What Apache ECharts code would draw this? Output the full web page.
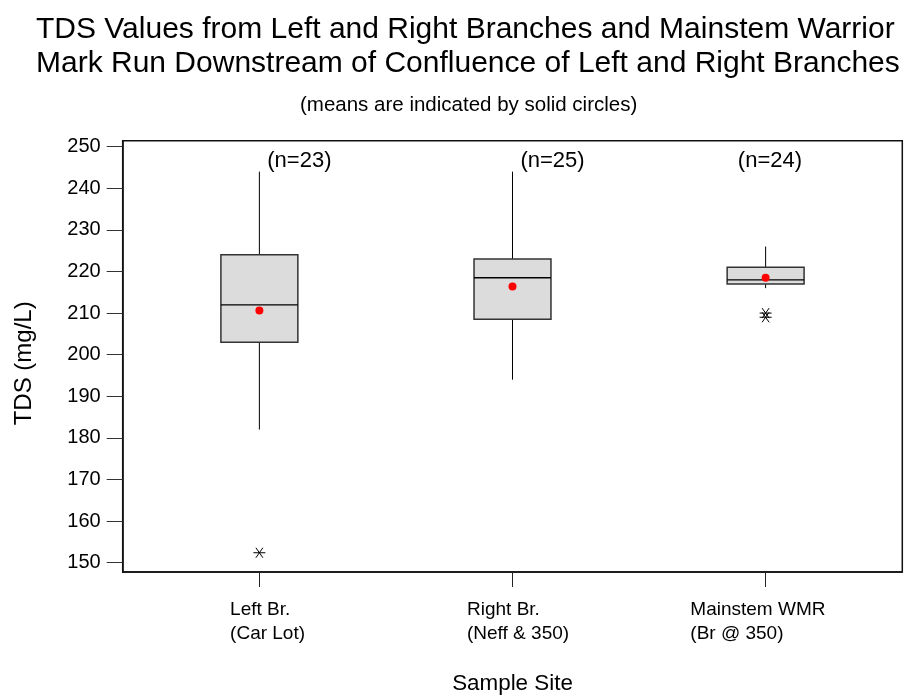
<!DOCTYPE html>
<html>
<head>
<meta charset="utf-8">
<script src="https://cdn.jsdelivr.net/npm/echarts@6/dist/echarts.min.js"></script>
<style>
  html, body { margin: 0; padding: 0; background: #fff; }
  #chart { width: 906px; height: 697px; }
</style>
</head>
<body>
<div id="chart"></div>
<script>
// Sample sites along the x axis
const categories = ['Left Br.\n(Car Lot)', 'Right Br.\n(Neff & 350)', 'Mainstem WMR\n(Br @ 350)'];

// Box-plot summary statistics per site (TDS, mg/L)
const whiskerLow = [182, 194, 216];
const q1 = [203, 208.5, 217];
const median = [212, 218.5, 218];
const q3 = [224, 223, 221];
const whiskerHigh = [244, 244, 226];
const means = [210.6, 216.4, 218.5];

// Outliers: [site index, value]
const outliers = [[0, 152.4], [2, 209], [2, 210]];

// Number of samples per site
const sampleCounts = [23, 25, 24];

// Y-axis tick labels
const yTicks = [150, 160, 170, 180, 190, 200, 210, 220, 230, 240, 250];

// Where the "(n=..)" annotations sit, in axis units
const nLabelAnchor = [[1.158, 246.5], [2.158, 246.5], [3.017, 246.5]];

const FONT = '"Liberation Sans", Arial, Helvetica, sans-serif';
const BOX_WIDTH = 0.304;   // in x-axis units

const boxData = categories.map((c, i) => [i + 1, whiskerLow[i], q1[i], median[i], q3[i], whiskerHigh[i]]);
const meanData = means.map((m, i) => [i + 1, m]);
const outlierData = outliers.map(o => [o[0] + 1, o[1]]);
const nData = sampleCounts.map((n, i) => ({ value: nLabelAnchor[i], n: n }));

const chart = echarts.init(document.getElementById('chart'), null, { renderer: 'canvas' });

chart.setOption({
  backgroundColor: '#ffffff',
  animation: false,
  title: [
    {
      text: 'TDS Values from Left and Right Branches and Mainstem Warrior\nMark Run Downstream of Confluence of Left and Right Branches',
      left: 31,
      top: 8,
      textStyle: { fontFamily: FONT, fontSize: 30, fontWeight: 'normal', color: '#000', lineHeight: 34 }
    },
    {
      text: '(means are indicated by solid circles)',
      left: 295,
      top: 90,
      textStyle: { fontFamily: FONT, fontSize: 20.5, fontWeight: 'normal', color: '#000' }
    }
  ],
  grid: {
    left: 122.7, top: 140.7, right: 3.7, bottom: 125,
    outerBoundsMode: 'none',
    show: true, borderColor: '#111', borderWidth: 1.5, backgroundColor: 'transparent'
  },
  xAxis: {
    type: 'value',
    min: 0.46,
    max: 3.54,
    name: 'Sample Site',
    nameLocation: 'middle',
    nameGap: 101,
    nameTextStyle: { fontFamily: FONT, fontSize: 22.4, color: '#000' },
    axisLine: { show: true, onZero: false, lineStyle: { color: '#111', width: 1.5 } },
    axisTick: { show: true, customValues: [1, 2, 3], length: 15, lineStyle: { color: '#222', width: 1 } },
    splitLine: { show: false },
    axisLabel: {
      customValues: [1, 2, 3],
      margin: 26,
      formatter: function (v) {
        const i = Math.round(v) - 1;
        return categories[i].split('\n').map(s => '{c' + i + '|' + s + '}').join('\n');
      },
      rich: {
        c0: { width: 58.6, align: 'left', fontFamily: FONT, fontSize: 19, lineHeight: 24, color: '#000' },
        c1: { width: 91, align: 'left', fontFamily: FONT, fontSize: 19, lineHeight: 24, color: '#000' },
        c2: { width: 150.6, align: 'left', fontFamily: FONT, fontSize: 19, lineHeight: 24, color: '#000' }
      }
    }
  },
  yAxis: {
    type: 'value',
    min: 147.77,
    max: 251.44,
    name: 'TDS (mg/L)',
    nameLocation: 'middle',
    nameRotate: 90,
    nameGap: 86,
    nameTextStyle: { fontFamily: FONT, fontSize: 24, color: '#000', padding: [0, 14, 0, 0] },
    axisLine: { show: true, lineStyle: { color: '#111', width: 1.5 } },
    axisTick: { show: true, customValues: yTicks, length: 16, lineStyle: { color: '#333', width: 1 } },
    splitLine: { show: false },
    axisLabel: {
      customValues: yTicks,
      margin: 22,
      fontFamily: FONT, fontSize: 20, color: '#000'
    }
  },
  series: [
    {
      type: 'custom',
      name: 'boxes',
      data: boxData,
      encode: { x: 0, y: [1, 2, 3, 4, 5] },
      renderItem: function (params, api) {
        const x = api.value(0);
        const lo = api.coord([x, api.value(1)]);
        const b = api.coord([x, api.value(2)]);
        const m = api.coord([x, api.value(3)]);
        const t = api.coord([x, api.value(4)]);
        const hi = api.coord([x, api.value(5)]);
        const halfW = api.size([BOX_WIDTH, 0])[0] / 2;
        const whisker = { stroke: '#000', lineWidth: 1 };
        return {
          type: 'group',
          children: [
            { type: 'line', shape: { x1: hi[0], y1: hi[1], x2: t[0], y2: t[1] }, style: whisker },
            { type: 'line', shape: { x1: b[0], y1: b[1], x2: lo[0], y2: lo[1] }, style: whisker },
            { type: 'rect', shape: { x: t[0] - halfW, y: t[1], width: halfW * 2, height: b[1] - t[1] },
              style: { fill: '#dcdcdc', stroke: '#333', lineWidth: 1.5 } },
            { type: 'line', shape: { x1: m[0] - halfW, y1: m[1], x2: m[0] + halfW, y2: m[1] },
              style: { stroke: '#000', lineWidth: 1.3 } }
          ]
        };
      },
      z: 2
    },
    {
      type: 'custom',
      name: 'outliers',
      data: outlierData,
      encode: { x: 0, y: 1 },
      renderItem: function (params, api) {
        const p = api.coord([api.value(0), api.value(1)]);
        const r = 6;
        const d = 5;
        const st = { stroke: '#000', lineWidth: 1 };
        return {
          type: 'group',
          children: [
            { type: 'line', shape: { x1: p[0] - r, y1: p[1], x2: p[0] + r, y2: p[1] }, style: st },
            { type: 'line', shape: { x1: p[0] - d * 0.7, y1: p[1] - d, x2: p[0] + d * 0.7, y2: p[1] + d }, style: st },
            { type: 'line', shape: { x1: p[0] + d * 0.7, y1: p[1] - d, x2: p[0] - d * 0.7, y2: p[1] + d }, style: st }
          ]
        };
      },
      z: 3
    },
    {
      type: 'scatter',
      name: 'mean',
      data: meanData,
      symbol: 'circle',
      symbolSize: 8,
      itemStyle: { color: '#ff0000', opacity: 1 },
      z: 4
    },
    {
      type: 'scatter',
      name: 'counts',
      data: nData,
      symbolSize: 0,
      itemStyle: { opacity: 1 },
      label: {
        show: true,
        position: 'inside',
        formatter: function (p) { return '(n=' + p.data.n + ')'; },
        fontFamily: FONT, fontSize: 22, color: '#000', textBorderWidth: 0
      },
      z: 5
    }
  ]
});
</script>
</body>
</html>
